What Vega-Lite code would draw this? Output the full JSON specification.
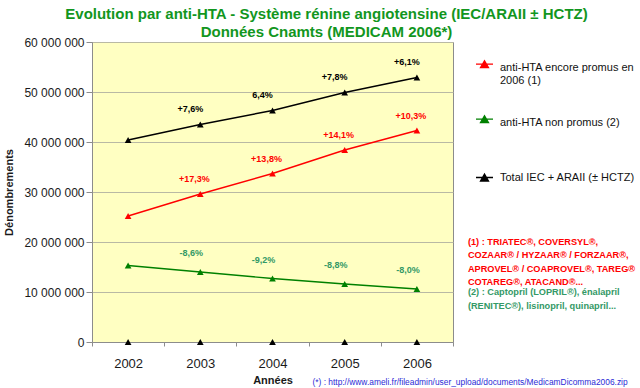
{
  "$schema": "https://vega.github.io/schema/vega-lite/v6.json",
  "width": 361,
  "height": 300,
  "autosize": {"type": "none"},
  "padding": {"left": 92, "top": 42, "right": 187, "bottom": 46},
  "background": "white",
  "config": {
    "font": "Liberation Sans",
    "view": {"fill": "#ffffc2", "stroke": "#8c8c8c", "strokeWidth": 1}
  },
  "title": {
    "text": ["Evolution par anti-HTA - Système rénine angiotensine (IEC/ARAII ± HCTZ)", "Données Cnamts (MEDICAM 2006*)"],
    "fontSize": 15,
    "fontWeight": "bold",
    "color": "#12961e",
    "anchor": "middle",
    "frame": "group",
    "dx": 54,
    "offset": -4,
    "lineHeight": 18
  },
  "datasets": {
    "series": [
      {"annee": "2002", "serie": "Total IEC + ARAII (± HCTZ)", "valeur": 40400000, "etiquette": null},
      {"annee": "2003", "serie": "Total IEC + ARAII (± HCTZ)", "valeur": 43500000, "etiquette": "+7,6%"},
      {"annee": "2004", "serie": "Total IEC + ARAII (± HCTZ)", "valeur": 46300000, "etiquette": "6,4%"},
      {"annee": "2005", "serie": "Total IEC + ARAII (± HCTZ)", "valeur": 49900000, "etiquette": "+7,8%"},
      {"annee": "2006", "serie": "Total IEC + ARAII (± HCTZ)", "valeur": 52900000, "etiquette": "+6,1%"},
      {"annee": "2002", "serie": "anti-HTA encore promus en 2006 (1)", "valeur": 25200000, "etiquette": null},
      {"annee": "2003", "serie": "anti-HTA encore promus en 2006 (1)", "valeur": 29600000, "etiquette": "+17,3%"},
      {"annee": "2004", "serie": "anti-HTA encore promus en 2006 (1)", "valeur": 33700000, "etiquette": "+13,8%"},
      {"annee": "2005", "serie": "anti-HTA encore promus en 2006 (1)", "valeur": 38400000, "etiquette": "+14,1%"},
      {"annee": "2006", "serie": "anti-HTA encore promus en 2006 (1)", "valeur": 42300000, "etiquette": "+10,3%"},
      {"annee": "2002", "serie": "anti-HTA non promus (2)", "valeur": 15300000, "etiquette": null},
      {"annee": "2003", "serie": "anti-HTA non promus (2)", "valeur": 14000000, "etiquette": "-8,6%"},
      {"annee": "2004", "serie": "anti-HTA non promus (2)", "valeur": 12700000, "etiquette": "-9,2%"},
      {"annee": "2005", "serie": "anti-HTA non promus (2)", "valeur": 11600000, "etiquette": "-8,8%"},
      {"annee": "2006", "serie": "anti-HTA non promus (2)", "valeur": 10600000, "etiquette": "-8,0%"},
      {"annee": "2002", "serie": "Série 4", "valeur": 0, "etiquette": null},
      {"annee": "2003", "serie": "Série 4", "valeur": 0, "etiquette": null},
      {"annee": "2004", "serie": "Série 4", "valeur": 0, "etiquette": null},
      {"annee": "2005", "serie": "Série 4", "valeur": 0, "etiquette": null},
      {"annee": "2006", "serie": "Série 4", "valeur": 0, "etiquette": null}
    ]
  },
  "data": {"name": "series"},
  "layer": [
    {
      "transform": [{"filter": "datum.serie != 'Série 4'"}],
      "mark": {"type": "line", "strokeWidth": 1.4},
      "encoding": {
        "x": {
          "field": "annee", "type": "ordinal",
          "scale": {"type": "band", "paddingInner": 0, "paddingOuter": 0},
          "axis": {
            "title": "Années", "labelAngle": 0, "tickBand": "extent", "tickSize": 4,
            "domainColor": "#8c8c8c", "tickColor": "#8c8c8c", "labelFontSize": 13,
            "labelColor": "#1a1a1a", "labelPadding": 11, "titleFontSize": 11,
            "titleFontWeight": "bold", "titleColor": "#1a1a1a", "titlePadding": 4, "grid": false
          }
        },
        "y": {
          "field": "valeur", "type": "quantitative",
          "scale": {"domain": [0, 60000000], "nice": false},
          "axis": {
            "title": "Dénombrements",
            "values": [0, 10000000, 20000000, 30000000, 40000000, 50000000, 60000000],
            "labelExpr": "replace(format(datum.value, ','), regexp(',', 'g'), ' ')",
            "grid": true, "gridColor": "#b9b9a4", "domainColor": "#8c8c8c", "tickColor": "#8c8c8c",
            "tickSize": 6, "labelFontSize": 12, "labelColor": "#1a1a1a", "labelPadding": 2,
            "titleFontSize": 11, "titleFontWeight": "bold", "titleColor": "#1a1a1a", "titlePadding": 9
          }
        },
        "color": {
          "field": "serie", "type": "nominal",
          "scale": {
            "domain": ["anti-HTA encore promus en 2006 (1)", "anti-HTA non promus (2)", "Total IEC + ARAII (± HCTZ)"],
            "range": ["#ff0000", "#008000", "#000000"]
          },
          "legend": {
            "orient": "none", "legendX": 383, "legendY": 16, "title": null, "padding": 0,
            "symbolType": "M-1,0H1M-0.47,0.42L0,-0.4L0.47,0.42Z",
            "symbolSize": 289, "symbolStrokeWidth": 1.3,
            "labelFontSize": 11, "labelColor": "#111111", "labelLimit": 200, "labelOffset": 6,
            "rowPadding": 27,
            "labelExpr": "datum.label == 'anti-HTA encore promus en 2006 (1)' ? ['anti-HTA encore promus en', '2006 (1)'] : datum.label == 'anti-HTA non promus (2)' ? ['anti-HTA non promus (2)', ' '] : datum.label",
            "encode": {"symbols": {"update": {
              "fill": {"scale": "color", "field": "value"},
              "stroke": {"scale": "color", "field": "value"},
              "shape": {"signal": "datum.value == 'Total IEC + ARAII (± HCTZ)' ? 'M-1,0H1M-0.47,0.42L0,-0.4L0.47,0.42Z' : 'M-1,-0.4H1M-0.47,0.02L0,-0.8L0.47,0.02Z'"}
            }}}
          }
        }
      }
    },
    {
      "transform": [{"filter": "datum.serie != 'Série 4'"}],
      "mark": {"type": "point", "shape": "triangle-up", "filled": true, "size": 45, "opacity": 1},
      "encoding": {
        "x": {"field": "annee", "type": "ordinal"},
        "y": {"field": "valeur", "type": "quantitative"},
        "color": {
          "field": "serie", "type": "nominal",
          "legend": {
            "orient": "none", "legendX": 383, "legendY": 16, "title": null, "padding": 0,
            "symbolType": "M-1,0H1M-0.47,0.42L0,-0.4L0.47,0.42Z",
            "symbolSize": 289, "symbolStrokeWidth": 1.3,
            "labelFontSize": 11, "labelColor": "#111111", "labelLimit": 200, "labelOffset": 6,
            "rowPadding": 27,
            "labelExpr": "datum.label == 'anti-HTA encore promus en 2006 (1)' ? ['anti-HTA encore promus en', '2006 (1)'] : datum.label == 'anti-HTA non promus (2)' ? ['anti-HTA non promus (2)', ' '] : datum.label",
            "encode": {"symbols": {"update": {
              "fill": {"scale": "color", "field": "value"},
              "stroke": {"scale": "color", "field": "value"},
              "shape": {"signal": "datum.value == 'Total IEC + ARAII (± HCTZ)' ? 'M-1,0H1M-0.47,0.42L0,-0.4L0.47,0.42Z' : 'M-1,-0.4H1M-0.47,0.02L0,-0.8L0.47,0.02Z'"}
            }}}
          }
        }
      }
    },
    {
      "transform": [{"filter": "datum.serie == 'Série 4'"}],
      "mark": {"type": "point", "shape": "triangle-up", "filled": true, "size": 45, "opacity": 1, "color": "#000000"},
      "encoding": {
        "x": {"field": "annee", "type": "ordinal"},
        "y": {"field": "valeur", "type": "quantitative"}
      }
    },
    {
      "transform": [{"filter": "datum.serie == 'Total IEC + ARAII (± HCTZ)' && isValid(datum.etiquette)"}],
      "mark": {"type": "text", "fontSize": 9, "fontWeight": "bold", "color": "#000000", "dx": -10, "dy": -16},
      "encoding": {
        "x": {"field": "annee", "type": "ordinal"},
        "y": {"field": "valeur", "type": "quantitative"},
        "text": {"field": "etiquette"}
      }
    },
    {
      "transform": [{"filter": "datum.serie == 'anti-HTA encore promus en 2006 (1)' && isValid(datum.etiquette)"}],
      "mark": {"type": "text", "fontSize": 9, "fontWeight": "bold", "color": "#ff0000", "dx": -6, "dy": -15},
      "encoding": {
        "x": {"field": "annee", "type": "ordinal"},
        "y": {"field": "valeur", "type": "quantitative"},
        "text": {"field": "etiquette"}
      }
    },
    {
      "transform": [{"filter": "datum.serie == 'anti-HTA non promus (2)' && isValid(datum.etiquette)"}],
      "mark": {"type": "text", "fontSize": 9, "fontWeight": "bold", "color": "#339966", "dx": -9, "dy": -19},
      "encoding": {
        "x": {"field": "annee", "type": "ordinal"},
        "y": {"field": "valeur", "type": "quantitative"},
        "text": {"field": "etiquette"}
      }
    },
    {
      "data": {"values": [{"texte": "(1) : TRIATEC®, COVERSYL®,\nCOZAAR® / HYZAAR® / FORZAAR®,\nAPROVEL® / COAPROVEL®, TAREG®\nCOTAREG®, ATACAND®..."}]},
      "mark": {"type": "text", "align": "left", "baseline": "top", "lineBreak": "\n", "lineHeight": 13.3, "fontSize": 9.2, "fontWeight": "bold", "color": "#ff0000", "dx": 51},
      "encoding": {
        "x": {"datum": "2006", "type": "ordinal"},
        "y": {"datum": 20800000, "type": "quantitative"},
        "text": {"field": "texte"}
      }
    },
    {
      "data": {"values": [{"texte": "(2) : Captopril (LOPRIL®), énalapril\n(RENITEC®), lisinopril, quinapril..."}]},
      "mark": {"type": "text", "align": "left", "baseline": "top", "lineBreak": "\n", "lineHeight": 13.5, "fontSize": 9.2, "fontWeight": "bold", "color": "#339966", "dx": 51},
      "encoding": {
        "x": {"datum": "2006", "type": "ordinal"},
        "y": {"datum": 10800000, "type": "quantitative"},
        "text": {"field": "texte"}
      }
    },
    {
      "data": {"values": [{"texte": "(*) : http://www.ameli.fr/fileadmin/user_upload/documents/MedicamDicomma2006.zip"}]},
      "mark": {"type": "text", "align": "left", "baseline": "middle", "fontSize": 8.4, "color": "#2b2bd6", "dx": 40},
      "encoding": {
        "x": {"datum": "2004", "type": "ordinal"},
        "y": {"datum": -8000000, "type": "quantitative"},
        "text": {"field": "texte"}
      }
    }
  ]
}
